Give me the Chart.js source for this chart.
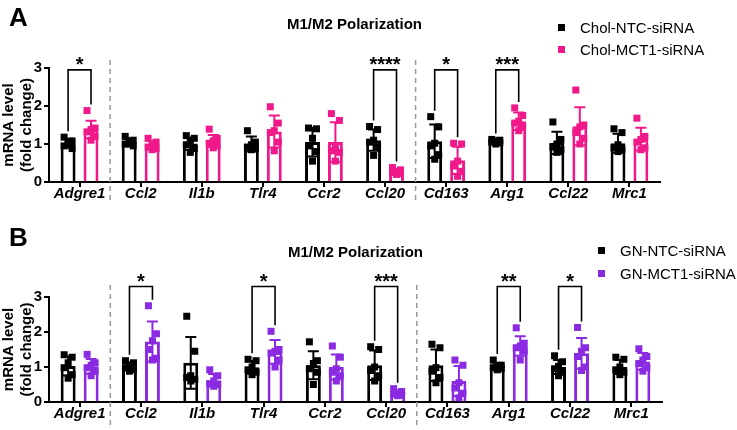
<!DOCTYPE html>
<html>
<head>
<meta charset="utf-8">
<script src="https://cdn.jsdelivr.net/npm/chart.js@4.4.1/dist/chart.umd.min.js"></script>
<style>
  body { margin: 0; background: #fff; }
  #wrap { position: relative; width: 737px; height: 430px; font-family: 'Liberation Sans', Arial, sans-serif; color: #000; }
  canvas { position: absolute; left: 0; }
  .letter { position: absolute; left: 9px; font-weight: bold; font-size: 26px; line-height: 26px; }
  .legend { position: absolute; font-size: 15px; }
  .legend div { display: flex; align-items: center; }
  .legend .sw { width: 7px; height: 7px; display: inline-block; }
</style>
</head>
<body>
<div id="wrap">
  <canvas id="chartA" width="737" height="215" style="top:0"></canvas>
  <canvas id="chartB" width="737" height="215" style="top:215px"></canvas>
  <div class="letter" style="top:4px">A</div>
  <div class="letter" style="top:224px">B</div>
  <div class="legend" id="legendA" style="left:558px; top:16px"></div>
  <div class="legend" id="legendB" style="left:598px; top:239px"></div>
</div>
<script>
const genes = ['Adgre1', 'Ccl2', 'Il1b', 'Tlr4', 'Ccr2', 'Ccl20', 'Cd163', 'Arg1', 'Ccl22', 'Mrc1'];
const yTicks = [0, 1, 2, 3];

// Panel A: cholesterol-loaded cells
const cholLabels = ['Chol-NTC-siRNA', 'Chol-MCT1-siRNA'];
const cholNtcMean = [1.02, 1.05, 1.01, 1.0, 1.05, 1.1, 1.07, 1.06, 1.03, 1.02];
const cholNtcSd = [0.12, 0.1, 0.16, 0.2, 0.38, 0.28, 0.44, 0.05, 0.29, 0.25];
const cholNtcPts = [
  [1.18, 1.08, 1.02, 0.95, 0.88, 1.0],
  [1.2, 1.1, 1.05, 1.0, 0.95, 1.0],
  [1.22, 1.15, 1.05, 0.98, 0.88, 0.78],
  [1.35, 1.05, 0.98, 0.92, 0.88, 0.85],
  [1.42, 1.4, 1.15, 0.95, 0.8, 0.55],
  [1.46, 1.38, 1.1, 1.05, 0.93, 0.7],
  [1.72, 1.45, 1.02, 0.95, 0.72, 0.6],
  [1.12, 1.1, 1.08, 1.05, 1.03, 1.0],
  [1.58, 1.12, 1.0, 0.92, 0.85, 0.78],
  [1.4, 1.3, 0.98, 0.9, 0.85, 0.8]
];
const cholMctMean = [1.38, 0.97, 1.08, 1.33, 1.05, 0.28, 0.57, 1.6, 1.47, 1.13];
const cholMctSd = [0.23, 0.11, 0.16, 0.42, 0.52, 0.06, 0.36, 0.23, 0.5, 0.3];
const cholMctPts = [
  [1.88, 1.42, 1.38, 1.32, 1.2, 1.1],
  [1.15, 1.05, 0.98, 0.92, 0.88, 0.85],
  [1.39, 1.15, 1.08, 1.02, 0.95, 0.9],
  [1.98, 1.55, 1.35, 1.3, 1.05, 0.82],
  [1.8, 1.62, 0.88, 0.82, 0.78, 0.55],
  [0.38, 0.32, 0.28, 0.25, 0.22, 0.2],
  [1.02, 1.0, 0.55, 0.42, 0.28, 0.15],
  [1.95, 1.75, 1.6, 1.55, 1.45, 1.35],
  [2.42, 1.5, 1.45, 1.3, 1.15, 1.0],
  [1.68, 1.2, 1.12, 1.05, 0.9, 0.85]
];
const cholSig = [['Adgre1', '*'], ['Ccl20', '****'], ['Cd163', '*'], ['Arg1', '***']];

// Panel B: GN cells
const gnLabels = ['GN-NTC-siRNA', 'GN-MCT1-siRNA'];
const gnNtcMean = [1.03, 1.02, 1.12, 0.99, 1.05, 1.05, 1.05, 1.02, 1.0, 1.0];
const gnNtcSd = [0.27, 0.11, 0.74, 0.18, 0.4, 0.42, 0.45, 0.1, 0.2, 0.2];
const gnNtcPts = [
  [1.35, 1.28, 1.12, 0.98, 0.78, 0.68],
  [1.18, 1.12, 1.05, 0.98, 0.92, 0.88],
  [2.45, 1.45, 0.75, 0.7, 0.65, 0.6],
  [1.22, 1.18, 1.0, 0.92, 0.85, 0.78],
  [1.72, 1.18, 1.1, 0.95, 0.85, 0.5],
  [1.58, 1.5, 1.0, 0.9, 0.75, 0.6],
  [1.65, 1.55, 0.98, 0.88, 0.7, 0.55],
  [1.2, 1.05, 1.0, 0.98, 0.95, 0.92],
  [1.32, 1.15, 1.02, 0.95, 0.85, 0.75],
  [1.28, 1.22, 1.0, 0.92, 0.85, 0.78]
];
const gnMctMean = [1.02, 1.73, 0.62, 1.43, 1.0, 0.26, 0.6, 1.6, 1.39, 1.16];
const gnMctSd = [0.21, 0.57, 0.18, 0.34, 0.36, 0.07, 0.43, 0.28, 0.44, 0.24];
const gnMctPts = [
  [1.36, 1.12, 1.05, 0.98, 0.88, 0.75],
  [2.75, 1.95, 1.75, 1.5, 1.25, 1.2],
  [0.92, 0.75, 0.6, 0.52, 0.5, 0.45],
  [2.02, 1.5, 1.45, 1.4, 1.2, 1.0],
  [1.6, 1.28, 0.95, 0.85, 0.75, 0.6],
  [0.38, 0.3, 0.25, 0.22, 0.2, 0.18],
  [1.2, 1.05, 0.55, 0.4, 0.25, 0.12],
  [2.12, 1.68, 1.6, 1.55, 1.45, 1.2],
  [2.13, 1.55, 1.45, 1.3, 1.0, 0.9],
  [1.52, 1.3, 1.2, 1.1, 0.98, 0.88]
];
const gnSig = [['Ccl2', '*'], ['Tlr4', '*'], ['Ccl20', '***'], ['Arg1', '**'], ['Ccl22', '*']];

const FONT = "'Liberation Sans', Arial, sans-serif";
const BLACK = '#000000';
const PINK = '#F0198A';
const PURPLE = '#8A2BE2';
const jitter = [-4, 4, 0, -4, 4, 0];

// error bars, replicate points, separators, brackets and title
const decor = {
  id: 'decor',
  afterDatasetsDraw(chart, args, o) {
    const ctx = chart.ctx, xs = chart.scales.x, ys = chart.scales.y, area = chart.chartArea;
    ctx.save();

    ctx.strokeStyle = '#9a9a9a';
    ctx.lineWidth = 1.5;
    ctx.setLineDash([5, 4]);
    o.seps.forEach(k => {
      const x = (xs.getPixelForValue(k) + xs.getPixelForValue(k + 1)) / 2;
      ctx.beginPath();
      ctx.moveTo(x, area.top - o.sepAbove);
      ctx.lineTo(x, area.bottom + o.sepBelow);
      ctx.stroke();
    });
    ctx.setLineDash([]);

    chart.data.datasets.forEach((ds, i) => {
      const meta = chart.getDatasetMeta(i);
      meta.data.forEach((bar, j) => {
        const m = ds.data[j], s = ds.sd[j];
        const top = ys.getPixelForValue(m + s), bot = ys.getPixelForValue(m - s);
        ctx.strokeStyle = ds.borderColor;
        ctx.lineWidth = 2;
        ctx.beginPath();
        ctx.moveTo(bar.x, top); ctx.lineTo(bar.x, bot);
        ctx.moveTo(bar.x - 5.5, top); ctx.lineTo(bar.x + 5.5, top);
        ctx.moveTo(bar.x - 5.5, bot); ctx.lineTo(bar.x + 5.5, bot);
        ctx.stroke();
        ctx.fillStyle = ds.borderColor;
        ds.pts[j].forEach((v, k) => {
          const px = bar.x + jitter[k % jitter.length], py = ys.getPixelForValue(v);
          ctx.fillRect(px - 3.5, py - 3.5, 7, 7);
        });
      });
    });

    const yTop = ys.getPixelForValue(o.bracketAt);
    ctx.strokeStyle = '#000';
    ctx.fillStyle = '#000';
    ctx.lineWidth = 1.6;
    ctx.font = 'bold 20px ' + FONT;
    ctx.textAlign = 'center';
    ctx.textBaseline = 'alphabetic';
    o.sig.forEach(([gene, label]) => {
      const j = chart.data.labels.indexOf(gene);
      const ends = chart.data.datasets.map((ds, i) => {
        const bar = chart.getDatasetMeta(i).data[j];
        const hi = Math.max(ds.data[j] + ds.sd[j], ...ds.pts[j]);
        return { x: bar.x, y: ys.getPixelForValue(hi) - 6 };
      });
      ctx.beginPath();
      ctx.moveTo(ends[0].x, ends[0].y);
      ctx.lineTo(ends[0].x, yTop);
      ctx.lineTo(ends[1].x, yTop);
      ctx.lineTo(ends[1].x, ends[1].y);
      ctx.stroke();
      ctx.fillText(label, (ends[0].x + ends[1].x) / 2, yTop + 1);
    });

    ctx.font = 'bold 15px ' + FONT;
    ctx.textBaseline = 'middle';
    ctx.fillText(o.title, (area.left + area.right) / 2, o.titleY);
    ctx.restore();
  }
};

function makePanel(id, p) {
  const sets = [
    { label: p.labels[0], data: p.means[0], sd: p.sds[0], pts: p.pts[0], color: BLACK },
    { label: p.labels[1], data: p.means[1], sd: p.sds[1], pts: p.pts[1], color: p.color }
  ];
  return new Chart(document.getElementById(id), {
    type: 'bar',
    data: {
      labels: genes,
      datasets: sets.map(s => ({
        label: s.label,
        data: s.data,
        sd: s.sd,
        pts: s.pts,
        backgroundColor: '#ffffff',
        borderColor: s.color,
        borderWidth: 3,
        categoryPercentage: 0.75,
        barPercentage: 0.65
      }))
    },
    options: {
      responsive: false,
      animation: false,
      layout: { padding: { top: p.padTop, right: p.padRight, left: 0, bottom: 0 } },
      plugins: {
        legend: { display: false },
        tooltip: { enabled: false },
        decor: p.decor
      },
      scales: {
        x: {
          grid: { drawOnChartArea: false, offset: false, tickLength: 5, color: '#000', lineWidth: 2 },
          border: { color: '#000', width: 2 },
          ticks: { color: '#000', padding: -1, font: { family: FONT, size: 15, weight: 'bold', style: 'italic', lineHeight: 1 } },
          afterFit: s => { s.height = p.xHeight; }
        },
        y: {
          min: 0,
          max: 3,
          ticks: {
            stepSize: 0.5,
            color: '#000',
            padding: 2,
            font: { family: FONT, size: 15, weight: 'bold' },
            callback: v => yTicks.includes(v) ? v : ''
          },
          grid: { drawOnChartArea: false, tickLength: 5, color: '#000', lineWidth: 2 },
          border: { color: '#000', width: 2 },
          title: {
            display: true,
            text: ['mRNA level', '(fold change)'],
            color: '#000',
            padding: 0,
            font: { family: FONT, size: 15, weight: 'bold', lineHeight: 1.2 }
          },
          afterFit: s => { s.width = 49; }
        }
      }
    },
    plugins: [decor]
  });
}

function buildLegend(el, chart) {
  chart.data.datasets.forEach((ds, i) => {
    const row = document.createElement('div');
    row.style.height = el.dataset.row + 'px';
    row.innerHTML = '<span class="sw" style="background:' + ds.borderColor + '"></span>' +
      '<span style="margin-left:15px">' + ds.label + '</span>';
    el.appendChild(row);
  });
}

const chartA = makePanel('chartA', {
  labels: cholLabels,
  means: [cholNtcMean, cholMctMean],
  sds: [cholNtcSd, cholMctSd],
  pts: [cholNtcPts, cholMctPts],
  color: PINK,
  padTop: 68,
  padRight: 77,
  xHeight: 33,
  decor: { title: 'M1/M2 Polarization', titleY: 25, seps: [0, 5], sepAbove: 8, sepBelow: 18, sig: cholSig, bracketAt: 2.95 }
});

const chartB = makePanel('chartB', {
  labels: gnLabels,
  means: [gnNtcMean, gnMctMean],
  sds: [gnNtcSd, gnMctSd],
  pts: [gnNtcPts, gnMctPts],
  color: PURPLE,
  padTop: 82,
  padRight: 75,
  xHeight: 28,
  decor: { title: 'M1/M2 Polarization', titleY: 38, seps: [0, 5], sepAbove: 12, sepBelow: 23, sig: gnSig, bracketAt: 3.3 }
});

document.getElementById('legendA').dataset.row = 22;
document.getElementById('legendB').dataset.row = 23;
buildLegend(document.getElementById('legendA'), chartA);
buildLegend(document.getElementById('legendB'), chartB);
</script>
</body>
</html>
